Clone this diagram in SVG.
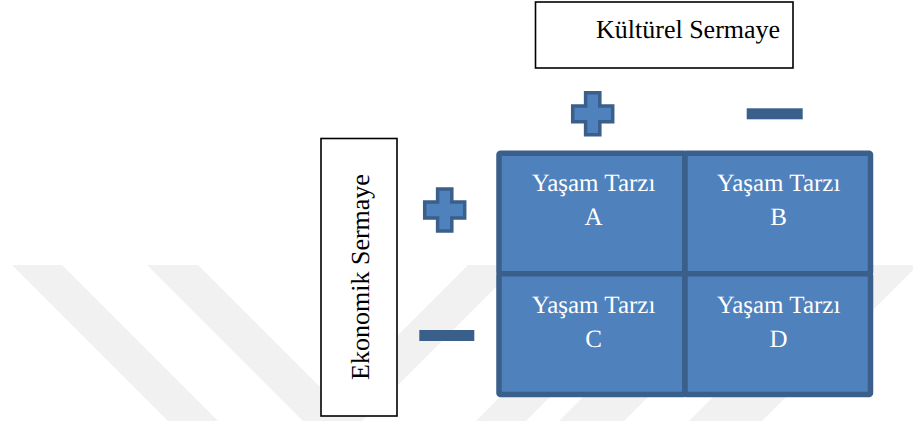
<svg xmlns="http://www.w3.org/2000/svg" xmlns:xlink="http://www.w3.org/1999/xlink" width="913" height="421" viewBox="0 0 913 421">
  <style>
    text { font-family: "Liberation Serif", "Times New Roman", "DejaVu Serif", serif; text-rendering: geometricPrecision; }
    .label { font-size: 26px; fill: #000; }
    .cell rect { fill: #4f81bd; stroke: #3a5f8b; stroke-width: 5.5; }
    .cell text { font-size: 25px; fill: #ffffff; text-anchor: middle; }
    .box { fill: #ffffff; stroke: #000; stroke-width: 1.6; }
    .mark { fill: #f1f1f1; }
    .plus { fill: #4f81bd; stroke: #3a5f8b; stroke-width: 3.5; stroke-linejoin: miter; }
    .minus { fill: #3a5f8b; }
  </style>
  <defs>
    <path id="plus" class="plus" d="M -7.1,-21 H 7.1 V -7.9 H 20 V 7.9 H 7.1 V 21 H -7.1 V 7.9 H -20 V -7.9 H -7.1 Z"/>
  </defs>

  <rect width="913" height="421" fill="#ffffff"/>

  <!-- faint diagonal background bands -->
  <g id="background-bands">
    <polygon class="mark" points="12,265 62,265 218,421 168,421"/>
    <polygon class="mark" points="147,265 198,265 354,421 303,421"/>
    <polygon class="mark" points="468,265 518,265 362,421 312,421"/>
    <polygon class="mark" points="632,265 682,265 526,421 476,421"/>
    <polygon class="mark" points="715,265 780,265 624,421 559,421"/>
    <polygon class="mark" points="845,265 918,265 762,421 689,421"/>
  </g>

  <!-- axis titles -->
  <g id="kulturel-sermaye">
    <rect class="box" x="535.5" y="2" width="257.5" height="66"/>
    <text class="label" x="596" y="37.5">Kültürel Sermaye</text>
  </g>
  <g id="ekonomik-sermaye">
    <rect class="box" x="321" y="138.5" width="76" height="277.5"/>
    <text class="label" transform="translate(369,277) rotate(-90)" text-anchor="middle">Ekonomik Sermaye</text>
  </g>

  <!-- plus / minus markers -->
  <g id="kulturel-plus"><use xlink:href="#plus" href="#plus" transform="translate(592.7,113.8)"/></g>
  <g id="kulturel-minus"><rect class="minus" x="746.7" y="108.3" width="56" height="11"/></g>
  <g id="ekonomik-plus"><use xlink:href="#plus" href="#plus" transform="translate(444.7,210)"/></g>
  <g id="ekonomik-minus"><rect class="minus" x="419.3" y="330" width="55" height="11"/></g>

  <!-- 2x2 lifestyle matrix -->
  <g id="yasam-tarzi-a" class="cell">
    <rect x="499" y="153.3" width="186" height="120.4" rx="1.5"/>
    <text x="593.5" y="191">Yaşam Tarzı</text>
    <text x="593.5" y="225">A</text>
  </g>
  <g id="yasam-tarzi-b" class="cell">
    <rect x="685" y="153.3" width="185.5" height="120.4" rx="1.5"/>
    <text x="778.5" y="191">Yaşam Tarzı</text>
    <text x="778.5" y="225">B</text>
  </g>
  <g id="yasam-tarzi-c" class="cell">
    <rect x="499" y="273.7" width="186" height="120.8" rx="1.5"/>
    <text x="593.5" y="312.7">Yaşam Tarzı</text>
    <text x="593.5" y="346.7">C</text>
  </g>
  <g id="yasam-tarzi-d" class="cell">
    <rect x="685" y="273.7" width="185.5" height="120.8" rx="1.5"/>
    <text x="778.5" y="312.7">Yaşam Tarzı</text>
    <text x="778.5" y="346.7">D</text>
  </g>
</svg>
